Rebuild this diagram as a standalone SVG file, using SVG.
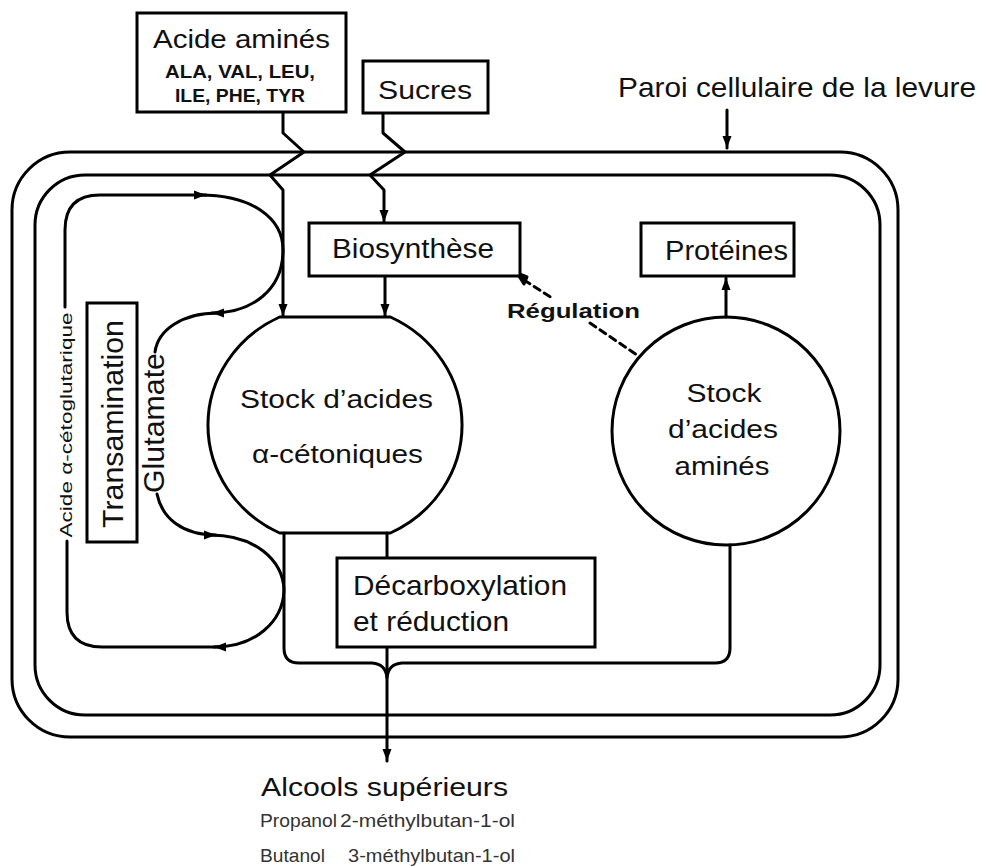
<svg xmlns="http://www.w3.org/2000/svg" width="983" height="866" viewBox="0 0 983 866">
<defs>
<marker id="arr" markerUnits="userSpaceOnUse" markerWidth="14" markerHeight="10" refX="12" refY="5" orient="auto-start-reverse">
<path d="M0,0.5 L12,5 L0,9.5 Z" fill="#000"/>
</marker>
<style>
.ln{fill:none;stroke:#000;stroke-width:3;stroke-linejoin:round;stroke-linecap:round}
.box{fill:#fff;stroke:#000;stroke-width:3}
.t{font-family:"Liberation Sans",Arial,sans-serif;fill:#111}
.b{font-weight:bold}
.sm{font-family:"Liberation Sans",Arial,sans-serif;fill:#333;font-size:19px}
</style>
</defs>
<rect width="983" height="866" fill="#fff"/>

<g id="cell-wall">
<rect x="12" y="152" width="886" height="585" rx="58" ry="58" class="ln"/>
<rect x="35" y="175" width="845" height="540" rx="50" ry="50" class="ln"/>
</g>

<g id="connectors">
<path class="ln" d="M727,110 V148" marker-end="url(#arr)"/>
<path class="ln" d="M283,112 V133 L304,152 L270,175 L283,190 V316" marker-end="url(#arr)"/>
<path class="ln" d="M383,112 V133 L405,152 L370,175 L384,190 V222" marker-end="url(#arr)"/>
<path class="ln" d="M385,276 V316" marker-end="url(#arr)"/>
<path class="ln" d="M726,317 V278" marker-end="url(#arr)"/>
<path class="ln" d="M65,307 V230 Q65,195 100,195 H206" marker-end="url(#arr)"/>
<path class="ln" d="M200,195 C252,195 283,218 283,250 C283,290 252,313 212,313" marker-end="url(#arr)"/>
<path class="ln" d="M218,313 C182,313 158,330 155,352"/>
<path class="ln" d="M157,494 C162,518 182,535 216,535" marker-end="url(#arr)"/>
<path class="ln" d="M210,535 C255,535 283,560 284,590 C283,622 255,647 214,647" marker-end="url(#arr)"/>
<path class="ln" d="M220,647 H102 Q67,647 67,612 V541"/>
<path class="ln" d="M284,533 V648 Q284,663 299,663 H372 Q386,664 387,678 Q388,664 402,663 H715 Q730,663 730,648 V545"/>
<path class="ln" d="M387,533 V761" marker-end="url(#arr)"/>
<path d="M517,273 L527,277 L524,284 Z" fill="#000" stroke="#000" stroke-width="3" stroke-linejoin="round"/>
<path class="ln" d="M524,280 L552,298" stroke-dasharray="7,5"/>
<path class="ln" d="M590,323 L637,355" stroke-dasharray="7,5"/>
</g>

<g id="acide-amines">
<rect x="137" y="13" width="209" height="99" class="box"/>
<text class="t" x="153" y="48" font-size="25" textLength="177" lengthAdjust="spacingAndGlyphs">Acide aminés</text>
<text class="t b" x="240" y="78" font-size="18" text-anchor="middle" textLength="150" lengthAdjust="spacingAndGlyphs">ALA, VAL, LEU,</text>
<text class="t b" x="240" y="102" font-size="18" text-anchor="middle" textLength="130" lengthAdjust="spacingAndGlyphs">ILE, PHE, TYR</text>
</g>

<g id="sucres">
<rect x="363" y="61" width="125" height="52" class="box"/>
<text class="t" x="378" y="99" font-size="26" textLength="94" lengthAdjust="spacingAndGlyphs">Sucres</text>
</g>

<g id="paroi-label">
<text class="t" x="618" y="97" font-size="28" textLength="358" lengthAdjust="spacingAndGlyphs">Paroi cellulaire de la levure</text>
</g>

<g id="biosynthese">
<rect x="309" y="223" width="211" height="53" class="box"/>
<text class="t" x="332" y="258" font-size="27" textLength="162" lengthAdjust="spacingAndGlyphs">Biosynthèse</text>
</g>

<g id="proteines">
<rect x="641" y="223" width="153" height="53" class="box"/>
<text class="t" x="665" y="260" font-size="27" textLength="123" lengthAdjust="spacingAndGlyphs">Protéines</text>
</g>

<g id="regulation">
<text class="t b" x="507" y="318" font-size="20" textLength="133" lengthAdjust="spacingAndGlyphs">Régulation</text>
</g>

<g id="stock-cetoniques">
<path class="ln" d="M279.6,317 L390.4,317 A127,120 0 0 1 390.4,533 L279.6,533 A127,120 0 0 1 279.6,317 Z" fill="#fff"/>
<text class="t" x="240" y="408" font-size="25" textLength="193" lengthAdjust="spacingAndGlyphs">Stock d’acides</text>
<text class="t" x="252" y="463" font-size="25" textLength="171" lengthAdjust="spacingAndGlyphs">α-cétoniques</text>
</g>

<g id="stock-amines">
<circle cx="726" cy="431" r="114" class="ln"/>
<text class="t" x="724" y="402" font-size="25" text-anchor="middle" textLength="75" lengthAdjust="spacingAndGlyphs">Stock</text>
<text class="t" x="723" y="438" font-size="25" text-anchor="middle" textLength="110" lengthAdjust="spacingAndGlyphs">d’acides</text>
<text class="t" x="722" y="475" font-size="25" text-anchor="middle" textLength="95" lengthAdjust="spacingAndGlyphs">aminés</text>
</g>

<g id="transamination">
<rect x="87" y="303" width="50" height="239" class="box"/>
<text class="t" transform="translate(123,424) rotate(-90)" x="0" y="0" font-size="30" text-anchor="middle" textLength="208" lengthAdjust="spacingAndGlyphs">Transamination</text>
</g>

<g id="glutamate">
<text class="t" transform="translate(164,423) rotate(-90)" x="0" y="0" font-size="29" text-anchor="middle" textLength="140" lengthAdjust="spacingAndGlyphs">Glutamate</text>
</g>

<g id="acide-cetoglutarique">
<text class="t" transform="translate(72,425) rotate(-90)" x="0" y="0" font-size="16" fill="#333" text-anchor="middle" textLength="225" lengthAdjust="spacingAndGlyphs">Acide  α-cétoglutarique</text>
</g>

<g id="decarboxylation">
<rect x="337" y="558" width="258" height="89" class="box"/>
<text class="t" x="353" y="595" font-size="28" textLength="214" lengthAdjust="spacingAndGlyphs">Décarboxylation</text>
<text class="t" x="353" y="631" font-size="28" textLength="156" lengthAdjust="spacingAndGlyphs">et réduction</text>
</g>

<g id="alcools">
<text class="t" x="261" y="796" font-size="26" textLength="247" lengthAdjust="spacingAndGlyphs">Alcools supérieurs</text>
<text class="sm" x="260" y="827" textLength="77" lengthAdjust="spacingAndGlyphs">Propanol</text>
<text class="sm" x="340" y="827" textLength="175" lengthAdjust="spacingAndGlyphs">2-méthylbutan-1-ol</text>
<text class="sm" x="260" y="862" textLength="65" lengthAdjust="spacingAndGlyphs">Butanol</text>
<text class="sm" x="348" y="862" textLength="167" lengthAdjust="spacingAndGlyphs">3-méthylbutan-1-ol</text>
</g>
</svg>
